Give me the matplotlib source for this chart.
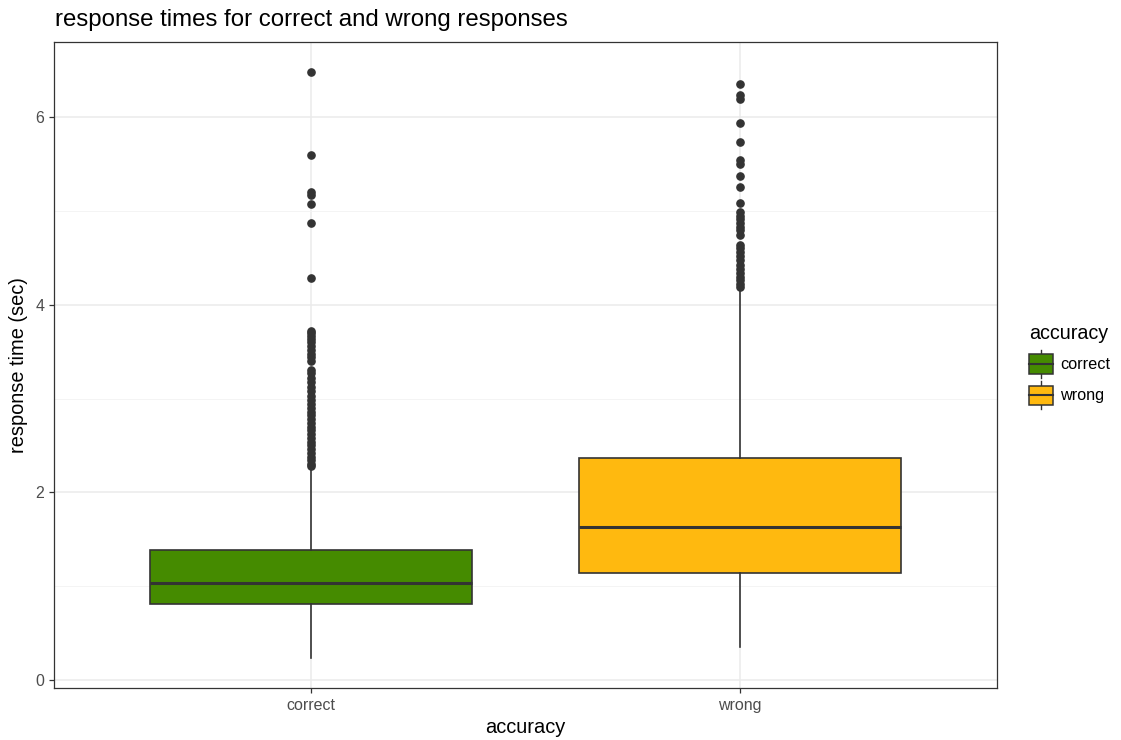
import matplotlib
matplotlib.use("Agg")
import matplotlib.pyplot as plt
from matplotlib.patches import Rectangle
from matplotlib.lines import Line2D
from matplotlib.legend_handler import HandlerBase

plt.rcParams['font.family'] = ['Liberation Sans', 'DejaVu Sans']

categories = ["correct", "wrong"]
colors = ["#458B00", "#FFB90F"]
q1 = [0.81, 1.14]
medians = [1.034, 1.63]
q3 = [1.385, 2.366]
whislo = [0.235, 0.35]
whishi = [2.25, 4.19]
outliers_correct = [6.48, 5.60, 5.20, 5.17, 5.07, 4.87, 4.28,
                    3.72, 3.70, 3.67, 3.63, 3.60, 3.56, 3.52, 3.48, 3.44, 3.40,
                    3.30, 3.27, 3.22, 3.18, 3.12, 3.08, 3.03, 2.98, 2.94, 2.90,
                    2.86, 2.82, 2.78, 2.74, 2.70, 2.66, 2.62, 2.58, 2.54, 2.50,
                    2.46, 2.42, 2.38, 2.34, 2.30, 2.28]
outliers_wrong = [6.35, 6.23, 6.19, 5.94, 5.73, 5.54, 5.50, 5.37, 5.25, 5.08,
                  4.99, 4.95, 4.91, 4.87, 4.83, 4.80, 4.74, 4.64, 4.60, 4.56,
                  4.52, 4.48, 4.42, 4.38, 4.34, 4.30, 4.26, 4.22, 4.19]
outliers = [outliers_correct, outliers_wrong]

fig = plt.figure(figsize=(11.21, 7.4), dpi=100)
W, H = 1121, 740
ax = fig.add_axes([54 / W, 1 - 688 / H, (997 - 54) / W, (688 - 42) / H])

stats = []
for i, c in enumerate(categories):
    stats.append(dict(label=c, q1=q1[i], med=medians[i], q3=q3[i],
                      whislo=whislo[i], whishi=whishi[i], fliers=outliers[i]))

bp = ax.bxp(stats, positions=[1, 2], widths=0.75, patch_artist=True,
            showcaps=False,
            boxprops=dict(edgecolor="#333333", linewidth=1.2),
            medianprops=dict(color="#333333", linewidth=2.2),
            whiskerprops=dict(color="#333333", linewidth=1.2),
            flierprops=dict(marker="o", markersize=5.2, markerfacecolor="#333333",
                            markeredgecolor="#333333", linestyle="none"))
for patch, col in zip(bp["boxes"], colors):
    patch.set_facecolor(col)
for el in bp["boxes"] + bp["medians"] + bp["whiskers"] + bp["fliers"]:
    el.set_zorder(3)

ax.set_xlim(0.4, 2.6)
ax.set_ylim(-0.085, 6.80)
ax.set_yticks([0, 2, 4, 6])
ax.set_yticks([1, 3, 5], minor=True)
ax.set_xticks([1, 2])
ax.set_xticklabels(categories)
ax.set_facecolor("white")
ax.grid(which="major", color="#EBEBEB", linewidth=1.1, zorder=0)
ax.grid(which="minor", axis="y", color="#F3F3F3", linewidth=0.6, zorder=0)
ax.set_axisbelow(True)
for s in ax.spines.values():
    s.set_color("#333333")
    s.set_linewidth(0.9)
ax.tick_params(axis="both", which="major", length=3.5, color="#333333",
               labelsize=11.5, labelcolor="#4D4D4D", width=0.9)
ax.tick_params(axis="y", which="minor", length=0)
ax.set_xlabel("accuracy", fontsize=14.4, labelpad=4)
ax.set_ylabel("response time (sec)", fontsize=14.4, labelpad=5)
fig.text(55 / W, 1 - 20 / H, "response times for correct and wrong responses",
         fontsize=17.3, va="center", ha="left")


class BoxHandler(HandlerBase):
    def __init__(self, color):
        super().__init__()
        self.color = color

    def create_artists(self, legend, orig_handle, xdescent, ydescent, width,
                       height, fontsize, trans):
        x0, y0 = -xdescent, -ydescent
        cx = x0 + width / 2
        vline = Line2D([cx, cx], [y0, y0 + height], color="#333333", lw=1.0,
                       transform=trans)
        rect = Rectangle((x0, y0 + height * 0.15), width, height * 0.7,
                         facecolor=self.color, edgecolor="#333333", lw=1.1,
                         transform=trans)
        med = Line2D([x0, x0 + width], [y0 + height / 2] * 2, color="#333333",
                     lw=1.5, transform=trans)
        return [vline, rect, med]


handles = [Rectangle((0, 0), 1, 1) for _ in categories]
leg = fig.legend(handles, categories, title="accuracy",
                 handler_map={h: BoxHandler(c) for h, c in zip(handles, colors)},
                 loc="upper left", bbox_to_anchor=(1029 / W, 1 - 324 / H),
                 frameon=False, fontsize=11.7, title_fontsize=14.2,
                 handlelength=1.48, handleheight=2.27, handletextpad=0.45,
                 labelspacing=0.2, borderaxespad=0, borderpad=0)
leg._legend_box.align = "left"
leg._legend_box.sep = 5.2

fig.savefig("out.png", dpi=100, facecolor="white")
